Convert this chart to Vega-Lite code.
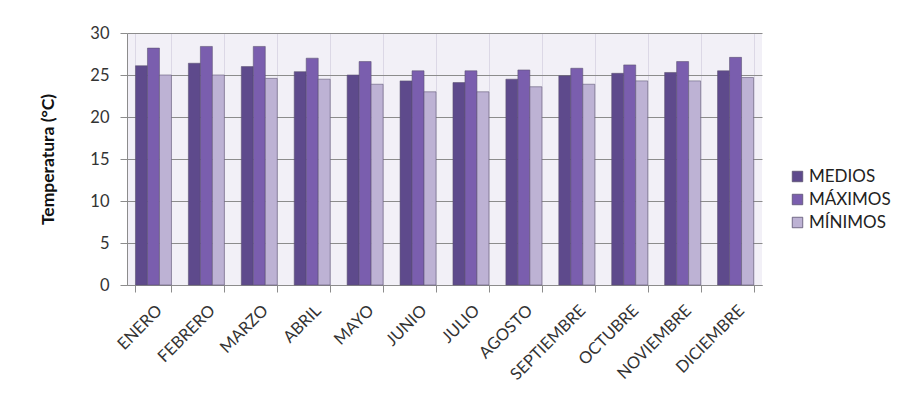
{
  "$schema": "https://vega.github.io/schema/vega-lite/v6.json",
  "autosize": "none",
  "width": 635,
  "height": 252,
  "padding": {"left": 127, "top": 33, "right": 138, "bottom": 109},
  "background": "white",
  "config": {
    "font": "Lato",
    "view": {"fill": "#f2f0f7", "stroke": null},
    "axis": {"labelFont": "Lato", "titleFont": "Lato"}
  },
  "data": {
    "values": [
      {"mes": "ENERO", "serie": "MEDIOS", "t": 26.1},
      {"mes": "ENERO", "serie": "MÁXIMOS", "t": 28.2},
      {"mes": "ENERO", "serie": "MÍNIMOS", "t": 25.0},
      {"mes": "FEBRERO", "serie": "MEDIOS", "t": 26.4},
      {"mes": "FEBRERO", "serie": "MÁXIMOS", "t": 28.4},
      {"mes": "FEBRERO", "serie": "MÍNIMOS", "t": 25.0},
      {"mes": "MARZO", "serie": "MEDIOS", "t": 26.0},
      {"mes": "MARZO", "serie": "MÁXIMOS", "t": 28.4},
      {"mes": "MARZO", "serie": "MÍNIMOS", "t": 24.6},
      {"mes": "ABRIL", "serie": "MEDIOS", "t": 25.4},
      {"mes": "ABRIL", "serie": "MÁXIMOS", "t": 27.0},
      {"mes": "ABRIL", "serie": "MÍNIMOS", "t": 24.5},
      {"mes": "MAYO", "serie": "MEDIOS", "t": 25.0},
      {"mes": "MAYO", "serie": "MÁXIMOS", "t": 26.6},
      {"mes": "MAYO", "serie": "MÍNIMOS", "t": 23.9},
      {"mes": "JUNIO", "serie": "MEDIOS", "t": 24.3},
      {"mes": "JUNIO", "serie": "MÁXIMOS", "t": 25.5},
      {"mes": "JUNIO", "serie": "MÍNIMOS", "t": 23.0},
      {"mes": "JULIO", "serie": "MEDIOS", "t": 24.1},
      {"mes": "JULIO", "serie": "MÁXIMOS", "t": 25.5},
      {"mes": "JULIO", "serie": "MÍNIMOS", "t": 23.0},
      {"mes": "AGOSTO", "serie": "MEDIOS", "t": 24.5},
      {"mes": "AGOSTO", "serie": "MÁXIMOS", "t": 25.6},
      {"mes": "AGOSTO", "serie": "MÍNIMOS", "t": 23.6},
      {"mes": "SEPTIEMBRE", "serie": "MEDIOS", "t": 24.9},
      {"mes": "SEPTIEMBRE", "serie": "MÁXIMOS", "t": 25.8},
      {"mes": "SEPTIEMBRE", "serie": "MÍNIMOS", "t": 23.9},
      {"mes": "OCTUBRE", "serie": "MEDIOS", "t": 25.2},
      {"mes": "OCTUBRE", "serie": "MÁXIMOS", "t": 26.2},
      {"mes": "OCTUBRE", "serie": "MÍNIMOS", "t": 24.3},
      {"mes": "NOVIEMBRE", "serie": "MEDIOS", "t": 25.3},
      {"mes": "NOVIEMBRE", "serie": "MÁXIMOS", "t": 26.6},
      {"mes": "NOVIEMBRE", "serie": "MÍNIMOS", "t": 24.3},
      {"mes": "DICIEMBRE", "serie": "MEDIOS", "t": 25.5},
      {"mes": "DICIEMBRE", "serie": "MÁXIMOS", "t": 27.1},
      {"mes": "DICIEMBRE", "serie": "MÍNIMOS", "t": 24.7}
    ]
  },
  "mark": {"type": "bar", "stroke": "#5a5070", "strokeWidth": 0.8, "strokeOpacity": 0.7},
  "encoding": {
    "x": {
      "field": "mes",
      "type": "nominal",
      "sort": null,
      "title": null,
      "scale": {"paddingInner": 0.32, "paddingOuter": 0.16},
      "axis": {
        "labelAngle": -45,
        "labelFontSize": 16.5,
        "labelColor": "#333333",
        "labelPadding": 10,
        "tickBand": "extent",
        "tickSize": 7,
        "tickColor": "#8c8c8c",
        "domainColor": "#8c8c8c",
        "grid": true,
        "gridColor": "#dcd8e6",
        "gridWidth": 1
      }
    },
    "y": {
      "field": "t",
      "type": "quantitative",
      "title": "Temperatura (°C)",
      "scale": {"domain": [0, 30], "nice": false},
      "axis": {
        "values": [0, 5, 10, 15, 20, 25, 30],
        "labelFontSize": 16.5,
        "labelColor": "#333333",
        "labelPadding": 11,
        "tickSize": 7,
        "tickColor": "#8c8c8c",
        "domainColor": "#8c8c8c",
        "gridColor": "#8c8c8c",
        "gridWidth": 1,
        "titleFontSize": 17.5,
        "titleFontWeight": "bold",
        "titleColor": "#111111",
        "titlePadding": 32
      }
    },
    "xOffset": {"field": "serie", "sort": ["MEDIOS", "MÁXIMOS", "MÍNIMOS"]},
    "color": {
      "field": "serie",
      "type": "nominal",
      "title": null,
      "scale": {
        "domain": ["MEDIOS", "MÁXIMOS", "MÍNIMOS"],
        "range": ["#5e4a8c", "#7a5eae", "#bdb2d4"]
      },
      "legend": {
        "orient": "none",
        "legendX": 662,
        "legendY": 135,
        "symbolType": "square",
        "symbolSize": 110,
        "symbolStrokeWidth": 0.8,
        "labelFontSize": 17,
        "labelColor": "#222222",
        "labelOffset": 3,
        "rowPadding": 5
      }
    }
  }
}
